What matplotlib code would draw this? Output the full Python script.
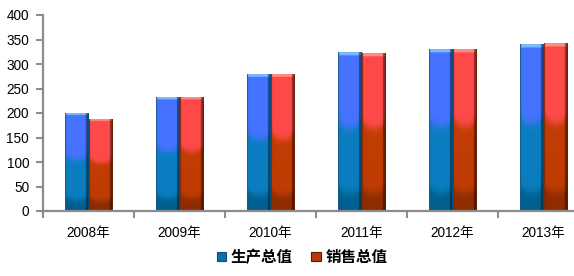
import numpy as np
import matplotlib
matplotlib.use("Agg")
import matplotlib.pyplot as plt
from matplotlib.patches import Patch
from matplotlib.colors import to_rgb

plt.rcParams['font.family'] = ['Liberation Sans', 'Noto Sans CJK SC', 'DejaVu Sans']

# data
years = ['2008年', '2009年', '2010年', '2011年', '2012年', '2013年']
production = [198, 231, 278, 323, 329, 340]
sales = [186, 231, 278, 321, 329, 341]
series_names = ['生产总值', '销售总值']
yticks = [0, 50, 100, 150, 200, 250, 300, 350, 400]

blue = dict(cap='#7ab8ff', top='#4672ff', mid='#0a7ec0', low='#005f8e', side='#00507c', edge='#1a5a86')
red = dict(cap='#ff8a80', top='#ff4a4a', mid='#c03c02', low='#8e2c00', side='#6a1e00', edge='#7a2a10')


def texture(c, nx=48, ny=240):
    u = np.linspace(0, 1, nx)[None, :]
    v = np.linspace(0, 1, ny)[:, None]
    bow = np.sqrt(np.clip(1 - (2 * u - 1) ** 2, 0, 1))
    d1 = 0.40 + 0.08 * bow
    d2 = 0.83 + 0.06 * bow
    s = 0.015
    w1 = 1 / (1 + np.exp(-(v - d1) / s))
    w2 = 1 / (1 + np.exp(-(v - d2) / s))
    top, mid, low = [np.array(to_rgb(c[k])) for k in ('top', 'mid', 'low')]
    img = top * (1 - w1[..., None]) + mid * w1[..., None]
    img = img * (1 - w2[..., None]) + low * w2[..., None]
    # top cap
    capmask = (v < 0.02) & np.ones_like(u, dtype=bool)
    img[capmask] = to_rgb(c['cap'])
    # darker right side and thin edges
    side = (u > 0.88) & np.ones_like(v, dtype=bool)
    img[side] = img[side] * 0.55
    img[:, :2] = to_rgb(c['edge'])
    img[:, -2:] = to_rgb(c['side'])
    return img


fig = plt.figure(figsize=(5.74, 2.76), dpi=100)
ax = fig.add_axes([43 / 574, 65 / 276, 531 / 574, 196 / 276])

x = np.arange(len(years))
bw = 0.26
for vals, off, c in [(production, -bw / 2, blue), (sales, bw / 2, red)]:
    bars = ax.bar(x + off, vals, bw, color='none', zorder=2)
    for b in bars:
        bx, by = b.get_x(), b.get_y()
        ax.imshow(texture(c), extent=(bx, bx + b.get_width(), by, by + b.get_height()),
                  aspect='auto', interpolation='bilinear', zorder=2)

ax.set_xlim(-0.5, -0.5 + 531 / 91)
ax.set_ylim(0, 400)
ax.set_yticks(yticks)
ax.set_xticks(x)
ax.set_xticklabels(years)
ax.set_xticks(np.arange(len(years)) - 0.5, minor=True)

for s in ('top', 'right'):
    ax.spines[s].set_visible(False)
for s in ('left', 'bottom'):
    ax.spines[s].set_color('#8c8c8c')
    ax.spines[s].set_linewidth(1.6)

ax.tick_params(axis='y', direction='out', length=5, width=1.5, color='#8c8c8c',
               labelsize=9.8, pad=5, labelcolor='black')
ax.tick_params(axis='x', which='major', length=0, labelsize=9.8, pad=11)
ax.tick_params(axis='x', which='minor', direction='out', length=5, width=1.5, color='#8c8c8c')

handles = [Patch(facecolor='#0a70b0', edgecolor='#1a4a70', lw=0.8),
           Patch(facecolor='#b83a10', edgecolor='#5a1a00', lw=0.8)]
fig.legend(handles, series_names, loc='center', bbox_to_anchor=(302 / 574, 19 / 276),
           ncol=2, frameon=False, handlelength=0.6, handleheight=0.6, handletextpad=0.3,
           columnspacing=1.2, prop={'family': ['Noto Sans CJK SC'], 'size': 11.2, 'weight': 'bold'})

fig.savefig('out.png', dpi=100)
